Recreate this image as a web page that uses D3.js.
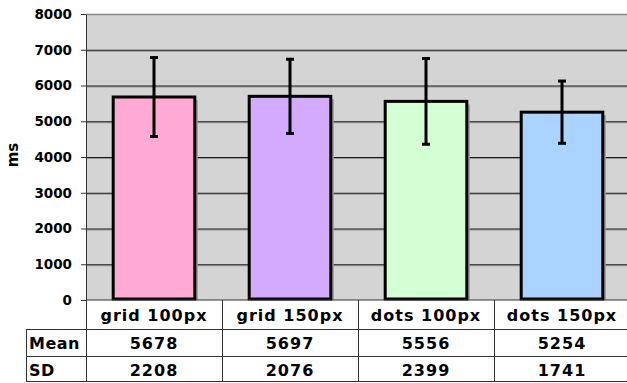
<!DOCTYPE html>
<html>
<head>
<meta charset="utf-8">
<script src="https://cdn.jsdelivr.net/npm/d3@7"></script>
<style>
  body { margin: 0; background: #fff; }
  text { font-family: "DejaVu Sans", Verdana, sans-serif; font-weight: bold; }
</style>
</head>
<body>
<div id="chart"></div>
<script>
// data
var categories = ["grid 100px", "grid 150px", "dots 100px", "dots 150px"];
var means = [5678, 5697, 5556, 5254];
var sds = [2208, 2076, 2399, 1741];
var barColors = ["#ffaad4", "#d4aaff", "#d4ffd4", "#aad4ff"];
var yTicks = [0, 1000, 2000, 3000, 4000, 5000, 6000, 7000, 8000];

var data = categories.map(function(c, i) {
  return {cat: c, mean: means[i], sd: sds[i], color: barColors[i]};
});

// dimensions
var W = 627, H = 383;
var margin = {top: 14, left: 86};
var plotW = 544, plotH = 286;   // plot runs past the right edge, like the original
var rowH = [29, 27, 26];

var svg = d3.select("#chart")
  .append("svg")
    .attr("width", W)
    .attr("height", H);

var g = svg.append("g")
  .attr("transform", "translate(" + margin.left + "," + margin.top + ")");

var x = d3.scaleBand()
  .domain(categories)
  .range([0, plotW])
  .paddingInner(0.4)
  .paddingOuter(0.2);

var y = d3.scaleLinear()
  .domain([0, 8000])
  .range([plotH, 0]);

// plot background
g.append("rect")
  .attr("x", 0).attr("y", 0)
  .attr("width", plotW).attr("height", plotH)
  .attr("fill", "#d4d4d4");

// gridlines (with a soft line under each)
var inner = yTicks.filter(function(d) { return d > 0 && d < 8000; });
g.selectAll(".gridShadow")
  .data(inner)
  .enter().append("line")
    .attr("x1", 0).attr("x2", plotW)
    .attr("y1", function(d) { return y(d) + 1.5; })
    .attr("y2", function(d) { return y(d) + 1.5; })
    .attr("stroke", "#999").attr("stroke-width", 1);
g.selectAll(".grid")
  .data(inner)
  .enter().append("line")
    .attr("x1", 0).attr("x2", plotW)
    .attr("y1", function(d) { return y(d) + 0.5; })
    .attr("y2", function(d) { return y(d) + 0.5; })
    .attr("stroke", "#1a1a1a").attr("stroke-width", 1);

// top border
g.append("line")
  .attr("x1", 0).attr("x2", plotW)
  .attr("y1", y(8000) + 0.5).attr("y2", y(8000) + 0.5)
  .attr("stroke", "#888").attr("stroke-width", 1.5);

// Y axis
var yAxis = g.append("g")
  .call(d3.axisLeft(y).tickValues(yTicks).tickFormat(d3.format("d"))
    .tickSize(5).tickSizeOuter(0).tickPadding(9));
yAxis.select(".domain").attr("stroke", "#333");
yAxis.selectAll("line").attr("stroke", "#333");
yAxis.selectAll("text")
  .style("font-size", "13.5px")
  .style("font-weight", "bold")
  .style("font-family", "'DejaVu Sans', Verdana, sans-serif")
  .attr("fill", "#000");

svg.append("text")
  .attr("transform", "translate(18,155) rotate(-90)")
  .attr("text-anchor", "middle")
  .style("font-size", "15px")
  .text("ms");

// bar shadows
g.selectAll(".shadow")
  .data(data)
  .enter().append("rect")
    .attr("x", function(d) { return x(d.cat) + 3; })
    .attr("y", function(d) { return y(d.mean) + 3; })
    .attr("width", x.bandwidth())
    .attr("height", function(d) { return plotH - y(d.mean) - 3; })
    .attr("fill", "#9a9a9a");

// bars
g.selectAll(".bar")
  .data(data)
  .enter().append("rect")
    .attr("x", function(d) { return x(d.cat); })
    .attr("y", function(d) { return y(d.mean); })
    .attr("width", x.bandwidth())
    .attr("height", function(d) { return plotH - y(d.mean) - 1; })
    .attr("fill", function(d) { return d.color; })
    .attr("stroke", "#000")
    .attr("stroke-width", 3);

// error bars: mean +/- half SD
var cap = 4;
var err = g.selectAll(".err")
  .data(data)
  .enter().append("g");
err.append("line")
  .attr("x1", function(d) { return x(d.cat) + x.bandwidth() / 2; })
  .attr("x2", function(d) { return x(d.cat) + x.bandwidth() / 2; })
  .attr("y1", function(d) { return y(d.mean + d.sd / 2); })
  .attr("y2", function(d) { return y(d.mean - d.sd / 2); })
  .attr("stroke", "#000").attr("stroke-width", 3);
err.append("line")
  .attr("x1", function(d) { return x(d.cat) + x.bandwidth() / 2 - cap; })
  .attr("x2", function(d) { return x(d.cat) + x.bandwidth() / 2 + cap; })
  .attr("y1", function(d) { return y(d.mean + d.sd / 2); })
  .attr("y2", function(d) { return y(d.mean + d.sd / 2); })
  .attr("stroke", "#000").attr("stroke-width", 3);
err.append("line")
  .attr("x1", function(d) { return x(d.cat) + x.bandwidth() / 2 - cap; })
  .attr("x2", function(d) { return x(d.cat) + x.bandwidth() / 2 + cap; })
  .attr("y1", function(d) { return y(d.mean - d.sd / 2); })
  .attr("y2", function(d) { return y(d.mean - d.sd / 2); })
  .attr("stroke", "#000").attr("stroke-width", 3);

// plot bottom line
g.append("line")
  .attr("x1", 0).attr("x2", plotW)
  .attr("y1", plotH).attr("y2", plotH)
  .attr("stroke", "#333").attr("stroke-width", 1);

// data table under the plot
var tableLeft = 26;
var tTop = plotH;
var r1 = tTop + rowH[0], r2 = r1 + rowH[1], r3 = r2 + rowH[2];
var colEdges = [0].concat(categories.map(function(c) { return x(c) - x.step() * x.paddingInner() / 2 + x.step(); }));

var tbl = g.append("g").attr("stroke", "#333").attr("stroke-width", 1);
// horizontal rules
[r1, r2, r3 - 1].forEach(function(yy) {
  tbl.append("line")
    .attr("x1", tableLeft - margin.left).attr("x2", plotW)
    .attr("y1", yy + 0.5).attr("y2", yy + 0.5);
});
// vertical rules
tbl.append("line")
  .attr("x1", tableLeft - margin.left + 0.5).attr("x2", tableLeft - margin.left + 0.5)
  .attr("y1", r1).attr("y2", r3);
colEdges.forEach(function(cx) {
  tbl.append("line")
    .attr("x1", cx + 0.5).attr("x2", cx + 0.5)
    .attr("y1", tTop).attr("y2", r3);
});

var colCenter = function(c) { return x(c) + x.bandwidth() / 2; };

function cell(sel) {
  return sel.attr("text-anchor", "middle")
    .style("font-size", "16px")
    .style("letter-spacing", "1px");
}

cell(g.selectAll(".catLabel")
  .data(categories)
  .enter().append("text")
    .attr("x", colCenter)
    .attr("y", tTop + 21))
    .text(function(d) { return d; });

cell(g.selectAll(".meanLabel")
  .data(data)
  .enter().append("text")
    .attr("x", function(d) { return colCenter(d.cat); })
    .attr("y", r1 + 20))
    .text(function(d) { return d.mean; });

cell(g.selectAll(".sdLabel")
  .data(data)
  .enter().append("text")
    .attr("x", function(d) { return colCenter(d.cat); })
    .attr("y", r2 + 20))
    .text(function(d) { return d.sd; });

g.append("text")
  .attr("x", tableLeft - margin.left + 3)
  .attr("y", r1 + 20)
  .style("font-size", "16px")
  .style("letter-spacing", "0.5px")
  .text("Mean");
g.append("text")
  .attr("x", tableLeft - margin.left + 3)
  .attr("y", r2 + 20)
  .style("font-size", "16px")
  .style("letter-spacing", "0.5px")
  .text("SD");
</script>
</body>
</html>
